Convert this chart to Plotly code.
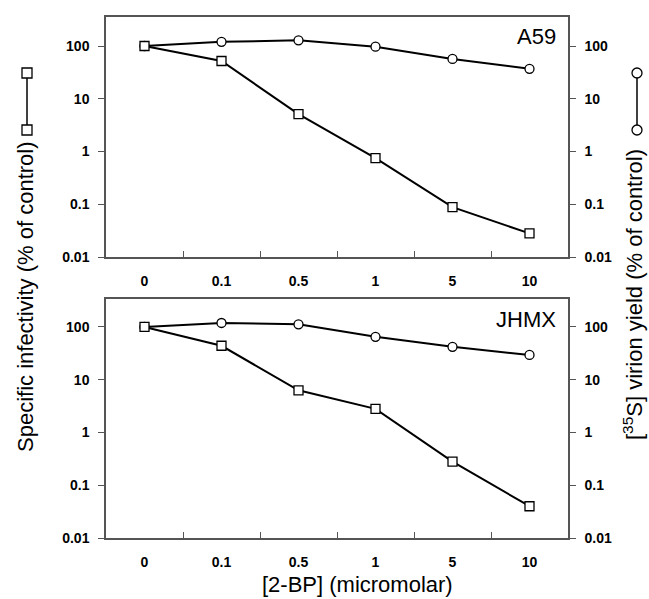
import plotly.graph_objects as go

# ---- data ----
concentrations = ["0", "0.1", "0.5", "1", "5", "10"]
a59_infectivity = [100, 52, 5.1, 0.75, 0.088, 0.028]
a59_yield = [100, 120, 128, 97, 57, 37]
jhmx_infectivity = [100, 44, 6.3, 2.8, 0.28, 0.04]
jhmx_yield = [100, 119, 112, 65, 42, 29.5]
panel_labels = ["A59", "JHMX"]
ytick_vals = [0.01, 0.1, 1, 10, 100]
ytick_text = ["0.01", "0.1", "1", "10", "100"]

W, H = 649, 599
L, R, T, B = 106, 81, 17, 61
plot_w = W - L - R
plot_h = H - T - B

def px_x(px):
    return (px - L) / plot_w

def px_y(py):
    return (H - B - py) / plot_h

idx = list(range(len(concentrations)))
FONT = "Liberation Sans, Arial, sans-serif"
AX = "#555555"

fig = go.Figure()

# both axes of a panel share the same log range; the square series is drawn
# in the overlay layer so that it sits above the circles (as in the original)
panels = [
    (a59_infectivity, a59_yield, "x", "y", "y2"),
    (jhmx_infectivity, jhmx_yield, "x2", "y3", "y4"),
]
for inf, yld, xa, ya_main, ya_over in panels:
    fig.add_trace(go.Scatter(
        x=idx, y=yld, xaxis=xa, yaxis=ya_main, mode="lines+markers",
        line=dict(color="black", width=2),
        marker=dict(symbol="circle", size=9, color="white",
                    line=dict(color="black", width=1.3)),
        showlegend=False, cliponaxis=False))
    fig.add_trace(go.Scatter(
        x=idx, y=inf, xaxis=xa, yaxis=ya_over, mode="lines+markers",
        line=dict(color="black", width=2),
        marker=dict(symbol="square", size=9, color="white",
                    line=dict(color="black", width=1.3)),
        showlegend=False, cliponaxis=False))

top_dom = [px_y(257), 1.0]
bot_dom = [0.0, px_y(299)]
yr_top = [-2, 2.55]
yr_bot = [-2, 2.53]

xcommon = dict(
    range=[-0.5, 5.5], tickvals=idx, ticktext=concentrations,
    ticks="", showline=True, linecolor=AX, linewidth=1.5, mirror=True,
    showgrid=False, zeroline=False, ticklabelstandoff=10,
    tickfont=dict(family=FONT, size=14, color="black", weight="bold"),
    minor=dict(tickvals=[0.5, 1.5, 2.5, 3.5, 4.5], ticks="inside",
               ticklen=6, tickcolor=AX, tickwidth=1),
)
ycommon = dict(
    type="log", tickvals=ytick_vals, ticktext=ytick_text,
    ticks="outside", ticklen=6, tickcolor=AX, tickwidth=1,
    showline=True, linecolor=AX, linewidth=1.5, showgrid=False,
    zeroline=False, ticklabelstandoff=6,
    tickfont=dict(family=FONT, size=14, color="black", weight="bold"),
)

fig.update_layout(
    width=W, height=H,
    margin=dict(l=L, r=R, t=T, b=B, pad=0),
    plot_bgcolor="white", paper_bgcolor="white",
    xaxis=dict(anchor="y", domain=[0, 1], **xcommon),
    xaxis2=dict(anchor="y3", domain=[0, 1], **xcommon),
    yaxis=dict(anchor="x", domain=top_dom, range=yr_top, side="left", **ycommon),
    yaxis2=dict(anchor="x", overlaying="y", range=yr_top, side="right", **ycommon),
    yaxis3=dict(anchor="x2", domain=bot_dom, range=yr_bot, side="left", **ycommon),
    yaxis4=dict(anchor="x2", overlaying="y3", range=yr_bot, side="right", **ycommon),
)

annotations = [
    dict(text=panel_labels[0], x=px_x(558), y=px_y(36), xanchor="right", yanchor="middle"),
    dict(text=panel_labels[1], x=px_x(558), y=px_y(320), xanchor="right", yanchor="middle"),
    dict(text="[2-BP] (micromolar)", x=px_x(357), y=px_y(584), xanchor="center", yanchor="middle"),
    dict(text="Specific infectivity (% of control)", x=px_x(25), y=px_y(297),
         textangle=-90, xanchor="center", yanchor="middle"),
    dict(text="[<sup>35</sup>S] virion yield (% of control)", x=px_x(633), y=px_y(295),
         textangle=-90, xanchor="center", yanchor="middle"),
]
for a in annotations:
    a.update(xref="paper", yref="paper", showarrow=False,
             font=dict(family=FONT, size=22, color="black"))
fig.update_layout(annotations=annotations)

# legend glyphs beside the axis titles
shapes = []
for xc, sym in [(27, "rect"), (637, "circle")]:
    shapes.append(dict(type="line", xref="paper", yref="paper",
                       x0=px_x(xc), x1=px_x(xc), y0=px_y(73), y1=px_y(130),
                       line=dict(color="black", width=1.5)))
    for yc in (73, 130):
        shapes.append(dict(type=sym, xref="paper", yref="paper",
                           xsizemode="pixel", ysizemode="pixel",
                           xanchor=px_x(xc), yanchor=px_y(yc),
                           x0=-5, x1=5, y0=-5, y1=5,
                           fillcolor="white", line=dict(color="black", width=1.3)))
fig.update_layout(shapes=shapes)

fig.write_html("out.html", config={"displayModeBar": False},
               post_script="document.body.style.margin='0';document.body.style.overflow='hidden';")
